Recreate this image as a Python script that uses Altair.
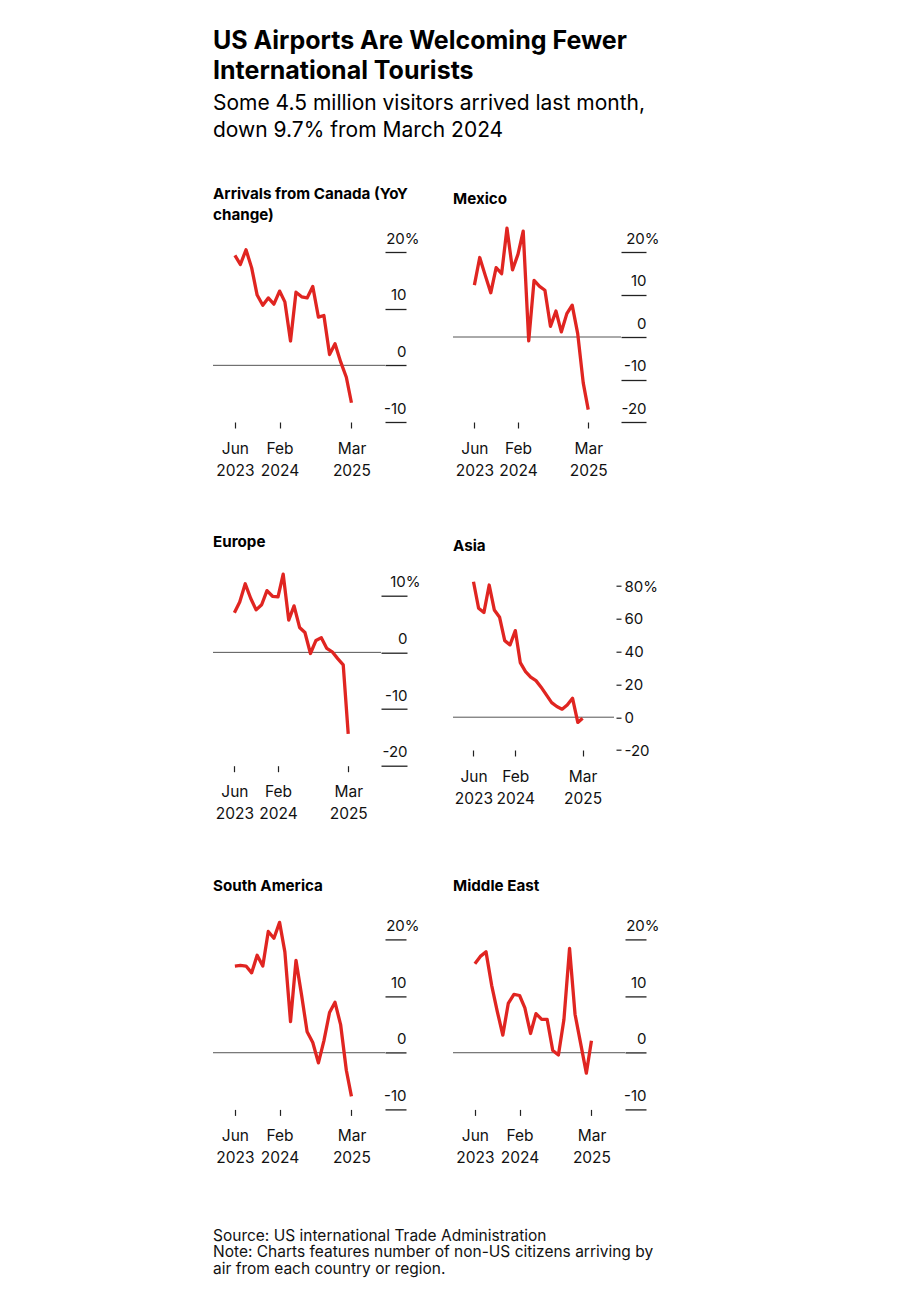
import altair as alt
import pandas as pd

FONT = "Inter"
RED = "#e02521"
TXT = "#111111"
TICK = "#222222"
BASE = "#555555"

months = [
    "2023-06-01", "2023-07-01", "2023-08-01", "2023-09-01", "2023-10-01",
    "2023-11-01", "2023-12-01", "2024-01-01", "2024-02-01", "2024-03-01",
    "2024-04-01", "2024-05-01", "2024-06-01", "2024-07-01", "2024-08-01",
    "2024-09-01", "2024-10-01", "2024-11-01", "2024-12-01", "2025-01-01",
    "2025-02-01", "2025-03-01",
]

canada = [19.4, 17.8, 20.4, 17.2, 12.4, 10.6, 11.9, 10.8, 13.1, 11.2, 4.3,
          12.9, 12.1, 11.9, 13.9, 8.5, 8.8, 1.9, 3.8, 0.6, -2.1, -6.6]
mexico = [12.2, 18.7, 14.5, 10.4, 16.3, 14.9, 25.6, 15.8, 19.5, 24.9, -0.9,
          13.3, 11.9, 11.0, 2.5, 6.1, 1.2, 5.5, 7.5, 0.8, -10.8, -17.1]
europe = [7.0, 8.9, 12.1, 9.5, 7.5, 8.4, 10.9, 9.9, 9.8, 13.8, 5.7,
          8.2, 4.4, 3.5, -0.2, 2.1, 2.6, 0.7, 0.1, -1.1, -2.2, -14.4]
asia = [82.6, 66.4, 63.8, 80.6, 65.4, 60.9, 46.7, 44.1, 52.8, 33.3, 27.8,
        24.4, 22.3, 18.3, 13.6, 8.9, 6.5, 4.9, 7.5, 11.6, -3.2, -0.6]
south_america = [15.3, 15.4, 15.3, 14.1, 17.2, 15.3, 21.4, 20.2, 23.0, 17.8, 5.5,
                 16.3, 10.1, 3.7, 1.8, -1.8, 2.1, 7.1, 8.9, 4.9, -3.1, -7.7]
middle_east = [15.7, 17.0, 17.8, 11.9, 7.4, 3.1, 8.7, 10.3, 10.1, 7.9, 3.4,
               6.9, 5.9, 5.9, 0.4, -0.4, 5.8, 18.4, 6.8, 1.6, -3.6, 2.1]

title_lines = ["US Airports Are Welcoming Fewer", "International Tourists"]
subtitle_lines = ["Some 4.5 million visitors arrived last month,", "down 9.7% from March 2024"]
footer_lines = [
    "Source: US international Trade Administration",
    "Note: Charts features number of non-US citizens arriving by",
    "air from each country or region.",
]

ticks_10_20 = [-10, 0, 10, 20]
ticks_20_20 = [-20, -10, 0, 10, 20]
ticks_20_10 = [-20, -10, 0, 10]
ticks_asia = [-20, 0, 20, 40, 60, 80]


def ts(y, m):
    return alt.DateTime(year=y, month=m, date=1, utc=True)


X_DOMAIN = [ts(2023, 2), ts(2025, 9)]
X_TICKS = [ts(2023, 6), ts(2024, 2), ts(2025, 3)]


def panel(values, title, title_offset, ydomain, yticks, width, tick_size,
          asia_style=False, yrange=None, xoffset=0):
    df = pd.DataFrame({"month": months, "value": values})
    top = max(yticks)
    label_expr = f"datum.value + (datum.value == {top} ? '%' : '')"
    xaxis = alt.Axis(
        values=X_TICKS,
        labelExpr="[utcFormat(datum.value, '%b'), utcFormat(datum.value, '%Y')]",
        domain=False, grid=False, tickSize=6, tickColor=TICK, tickWidth=1.2,
        labelFont=FONT, labelFontSize=15.5, labelColor=TXT, labelPadding=13,
        labelLineHeight=22, labelAlign="center", labelBaseline="top",
        labelFlush=False, labelOverlap=False, offset=xoffset, title=None,
    )
    if asia_style:
        yaxis = alt.Axis(
            orient="right", values=yticks, domain=False, grid=False, offset=2,
            tickSize=5, tickColor=TICK, tickWidth=1.2, labelAlign="left",
            labelBaseline="middle", labelPadding=3, labelExpr=label_expr,
            labelFont=FONT, labelFontSize=15, labelColor=TXT,
            labelFlush=False, labelOverlap=False, title=None,
        )
    else:
        yaxis = alt.Axis(
            orient="right", values=yticks, domain=False, grid=False,
            tickSize=tick_size, tickColor=TICK, tickWidth=1.3,
            labelAlign="right", labelBaseline="alphabetic", labelOffset=-9,
            labelPadding={"condition": {"test": f"datum.value == {top}", "value": 13},
                          "value": 0},
            labelExpr=label_expr, labelFont=FONT, labelFontSize=15,
            labelColor=TXT, labelFlush=False, labelOverlap=False, title=None,
        )
    if yrange is not None:
        yscale = alt.Scale(domain=ydomain, range=yrange, nice=False, zero=False)
    else:
        yscale = alt.Scale(domain=ydomain, nice=False, zero=False)
    xscale = alt.Scale(type="utc", domain=X_DOMAIN, nice=False)
    zero = alt.Chart(pd.DataFrame({"value": [0]})).mark_rule(
        color=BASE, strokeWidth=1
    ).encode(y=alt.Y("value:Q", scale=yscale, axis=yaxis, title=None))
    line = alt.Chart(df).mark_line(
        color=RED, strokeWidth=3.3, strokeJoin="round"
    ).encode(
        x=alt.X("month:T", scale=xscale, axis=xaxis, title=None),
        y=alt.Y("value:Q", scale=yscale, axis=yaxis, title=None),
    )
    return alt.layer(zero, line).properties(
        width=width, height=170,
        title=alt.TitleParams(
            text=title, anchor="start", frame="group", font=FONT, fontSize=15.2,
            fontWeight="bold", color="#000000", lineHeight=20.5,
            baseline="bottom", offset=title_offset,
        ),
    )


p_canada = panel(canada, ["Arrivals from Canada (YoY", "change)"], -7,
                 [-10, 20], ticks_10_20, 172, 21)
p_mexico = panel(mexico, ["Mexico"], 4, [-20, 20], ticks_20_20, 168, 25)
p_europe = panel(europe, ["Europe"], 7, [-20, 10], ticks_20_10, 168, 26)
p_asia = panel(asia, ["Asia"], 10, [-20, 80], ticks_asia, 161, 5,
               asia_style=True, yrange=[154.3, -9.7], xoffset=-15.7)
p_sa = panel(south_america, ["South America"], 9, [-10, 20], ticks_10_20, 172, 21)
p_me = panel(middle_east, ["Middle East"], 9, [-10, 20], ticks_10_20, 172, 21)

grid = alt.concat(
    p_canada, p_mexico, p_europe, p_asia, p_sa, p_me,
    columns=2, bounds="flush", align="all",
    spacing={"row": 173.7, "column": 68},
    title=alt.TitleParams(
        text=title_lines, subtitle=subtitle_lines, anchor="start", frame="group",
        font=FONT, fontSize=25, fontWeight="bold", color="#000000",
        lineHeight=30, subtitleFont=FONT, subtitleFontSize=21,
        subtitleColor="#000000", subtitleLineHeight=27.5, subtitlePadding=9,
        offset=46,
    ),
)

chart = alt.vconcat(
    grid,
    title=alt.TitleParams(
        text=footer_lines, orient="bottom", anchor="start", frame="group",
        font=FONT, fontSize=15.5, fontWeight="normal", color=TXT,
        lineHeight=16.6, offset=63,
    ),
).properties(
    padding={"left": 204, "top": 20, "right": 20, "bottom": 10},
    background="white",
).configure_view(stroke=None)

chart.save("out.html", embed_options={"renderer": "svg", "actions": False})
